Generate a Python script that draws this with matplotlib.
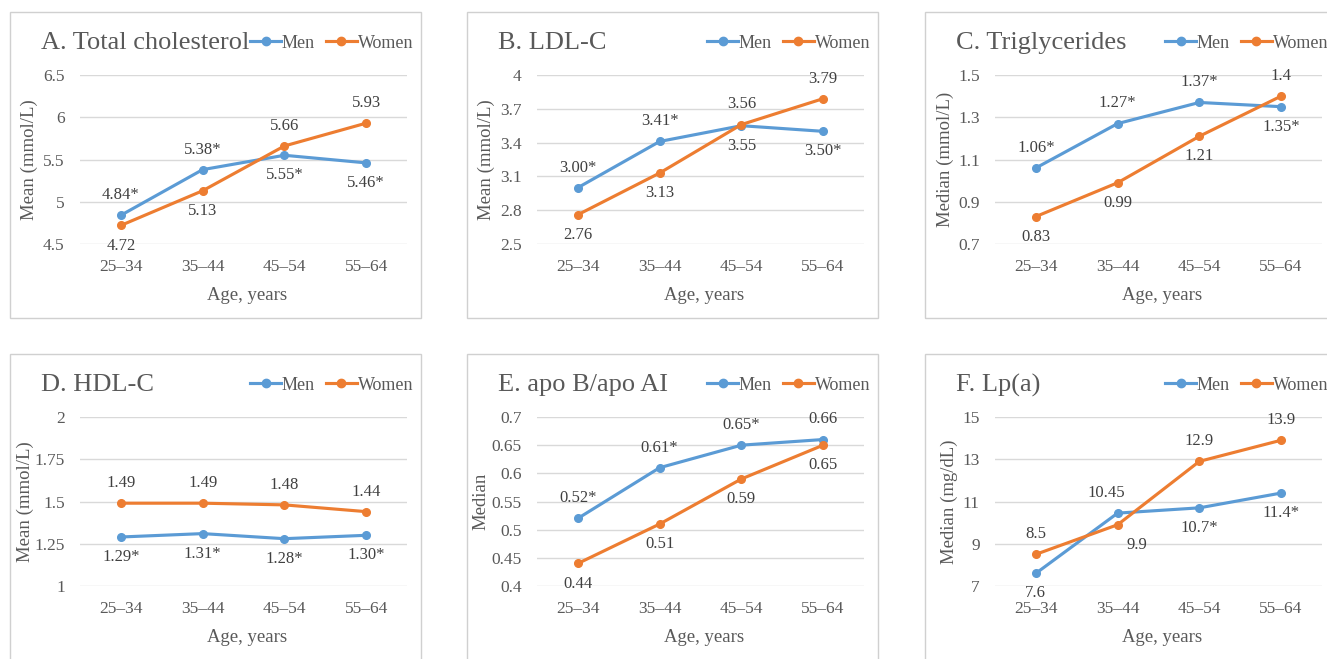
import numpy as np
import matplotlib
matplotlib.use('Agg')
import matplotlib.pyplot as plt
from matplotlib.patches import Rectangle
from matplotlib.lines import Line2D

plt.rcParams['font.family'] = ['Liberation Serif', 'DejaVu Serif']

# ---- data ----
ages = ['25–34', '35–44', '45–54', '55–64']

tc_men = [4.84, 5.38, 5.55, 5.46]
tc_women = [4.72, 5.13, 5.66, 5.93]
tc_men_lbl = ['4.84*', '5.38*', '5.55*', '5.46*']
tc_women_lbl = ['4.72', '5.13', '5.66', '5.93']

ldl_men = [3.00, 3.41, 3.55, 3.50]
ldl_women = [2.76, 3.13, 3.56, 3.79]
ldl_men_lbl = ['3.00*', '3.41*', '3.55', '3.50*']
ldl_women_lbl = ['2.76', '3.13', '3.56', '3.79']

tg_men = [1.06, 1.27, 1.37, 1.35]
tg_women = [0.83, 0.99, 1.21, 1.40]
tg_men_lbl = ['1.06*', '1.27*', '1.37*', '1.35*']
tg_women_lbl = ['0.83', '0.99', '1.21', '1.4']

hdl_men = [1.29, 1.31, 1.28, 1.30]
hdl_women = [1.49, 1.49, 1.48, 1.44]
hdl_men_lbl = ['1.29*', '1.31*', '1.28*', '1.30*']
hdl_women_lbl = ['1.49', '1.49', '1.48', '1.44']

apo_men = [0.52, 0.61, 0.65, 0.66]
apo_women = [0.44, 0.51, 0.59, 0.65]
apo_men_lbl = ['0.52*', '0.61*', '0.65*', '0.66']
apo_women_lbl = ['0.44', '0.51', '0.59', '0.65']

lpa_men = [7.6, 10.45, 10.7, 11.4]
lpa_women = [8.5, 9.9, 12.9, 13.9]
lpa_men_lbl = ['7.6', '10.45', '10.7*', '11.4*']
lpa_women_lbl = ['8.5', '9.9', '12.9', '13.9']

titles = ['A. Total cholesterol', 'B. LDL-C', 'C. Triglycerides',
          'D. HDL-C', 'E. apo B/apo AI', 'F. Lp(a)']
ylabels = ['Mean (mmol/L)', 'Mean (mmol/L)', 'Median (mmol/L)',
           'Mean (mmol/L)', 'Median', 'Median (mg/dL)']
yranges = [(4.5, 6.5, 0.5), (2.5, 4.0, 0.3), (0.7, 1.5, 0.2),
           (1.0, 2.0, 0.25), (0.4, 0.7, 0.05), (7, 15, 2)]

MEN_C = '#5B9BD5'
WOMEN_C = '#ED7D31'
TXT = '#595959'
LBL = '#404040'
GRID = '#D9D9D9'

W, H = 1327, 659
fig = plt.figure(figsize=(W / 100, H / 100), dpi=100)

def fx(x):
    return x / W

def fy(y):
    return 1 - y / H

col_left = [10, 467, 925]
row_top = [12, 354]
ylab_dist = [51, 51, 50, 55, 56, 46]

panels = [
    (tc_men, tc_women, tc_men_lbl, tc_women_lbl, 'aabb', 'bbaa', {}),
    (ldl_men, ldl_women, ldl_men_lbl, ldl_women_lbl, 'aabb', 'bbaa', {}),
    (tg_men, tg_women, tg_men_lbl, tg_women_lbl, 'aaab', 'bbba', {}),
    (hdl_men, hdl_women, hdl_men_lbl, hdl_women_lbl, 'bbbb', 'aaaa', {}),
    (apo_men, apo_women, apo_men_lbl, apo_women_lbl, 'aaaa', 'bbbb', {}),
    (lpa_men, lpa_women, lpa_men_lbl, lpa_women_lbl, 'babb', 'abaa',
     {('m', 1): -8, ('w', 1): 14}),
]

x = np.arange(len(ages))

for i, (men, women, mlbl, wlbl, mpos, wpos, dx) in enumerate(panels):
    r, c = divmod(i, 3)
    bl, bt = col_left[c], row_top[r]
    bw, bh = 411, 306

    # outer border of each chart
    fig.add_artist(Rectangle((fx(bl), fy(bt + bh)), bw / W, bh / H,
                             transform=fig.transFigure, fill=False,
                             edgecolor='#D0D0D0', linewidth=1.0))

    al, at = bl + 70, bt + 63
    ax = fig.add_axes([fx(al), fy(at + 169), 327 / W, 169 / H])

    lo, hi, step = yranges[i]
    ticks = np.round(np.arange(lo, hi + step / 2, step), 4)
    ax.set_ylim(lo, hi)
    ax.set_yticks(ticks)
    ax.set_yticklabels([f'{t:g}' for t in ticks])
    ax.set_xlim(-0.5, len(ages) - 0.5)
    ax.set_xticks(x)
    ax.set_xticklabels(ages)
    ax.grid(axis='y', color=GRID, linewidth=1.0)
    ax.set_axisbelow(True)
    for s in ax.spines.values():
        s.set_visible(False)
    ax.tick_params(axis='y', length=0, pad=11, labelsize=12.5, labelcolor=TXT)
    ax.tick_params(axis='x', length=0, pad=10.5, labelsize=12.5, labelcolor=TXT)

    ax.plot(x, men, color=MEN_C, lw=2.25, marker='o', ms=5.5, clip_on=False)
    ax.plot(x, women, color=WOMEN_C, lw=2.25, marker='o', ms=5.5, clip_on=False)

    for j in range(len(ages)):
        off = 14.5 if mpos[j] == 'a' else -14.5
        ax.annotate(mlbl[j], (x[j], men[j]), xytext=(dx.get(('m', j), 0), off),
                    textcoords='offset points', ha='center', va='center',
                    fontsize=12, color=LBL, annotation_clip=False)
        off = 14.5 if wpos[j] == 'a' else -14.5
        ax.annotate(wlbl[j], (x[j], women[j]), xytext=(dx.get(('w', j), 0), off),
                    textcoords='offset points', ha='center', va='center',
                    fontsize=12, color=LBL, annotation_clip=False)

    ax.text(-ylab_dist[i] / 327, 0.5, ylabels[i], transform=ax.transAxes,
            rotation=90, ha='center', va='center', fontsize=13.5, color=TXT)
    ax.text(0.51, -52 / 169, 'Age, years', transform=ax.transAxes,
            ha='center', va='center', fontsize=13.5, color=TXT)

    fig.text(fx(bl + 31), fy(bt + 31), titles[i], ha='left', va='center',
             fontsize=19, color=TXT)

    handles = [Line2D([], [], color=MEN_C, lw=2.25, marker='o', ms=6),
               Line2D([], [], color=WOMEN_C, lw=2.25, marker='o', ms=6)]
    fig.legend(handles, ['Men', 'Women'], loc='center right',
               bbox_to_anchor=(fx(bl + bw - 8), fy(bt + 31)),
               ncol=2, frameon=False, fontsize=13, handlelength=1.7,
               handletextpad=0.05, columnspacing=0.6, borderpad=0,
               borderaxespad=0, labelcolor=TXT)

fig.savefig('out.png', dpi=100)
